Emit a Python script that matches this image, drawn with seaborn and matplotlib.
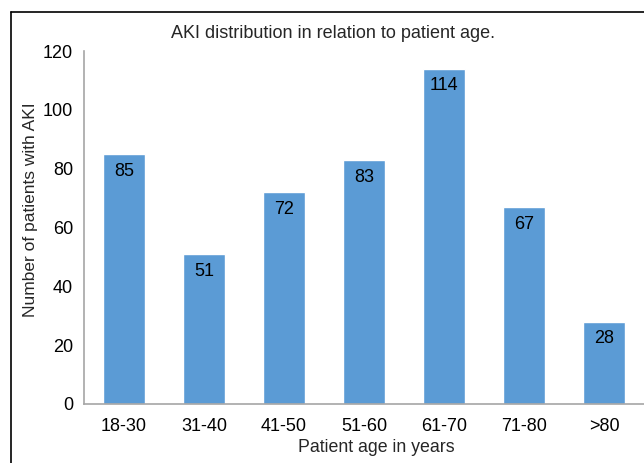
import matplotlib
matplotlib.use("Agg")
import matplotlib.pyplot as plt
import seaborn as sns
import pandas as pd
from matplotlib.lines import Line2D

categories = ["18-30", "31-40", "41-50", "51-60", "61-70", "71-80", ">80"]
values = [85, 51, 72, 83, 114, 67, 28]
yticks = [0, 20, 40, 60, 80, 100, 120]

sns.set_theme(style="white")
plt.rcParams['font.family'] = ['Liberation Sans', 'DejaVu Sans']

df = pd.DataFrame({"age": categories, "n": values})

fig = plt.figure(figsize=(6.44, 4.63), dpi=100)
ax = fig.add_axes([84/644, 1-404/463, 1-84/644, (404-51)/463])
sns.barplot(data=df, x="age", y="n", color="#5B9BD5", saturation=1, width=0.52, ax=ax)

ax.set_ylim(0, 120)
ax.set_yticks(yticks)
ax.set_xlim(-0.5, 6.5)
ax.tick_params(axis='both', length=0, labelsize=13, colors='black')
ax.tick_params(axis='y', pad=8)
ax.tick_params(axis='x', pad=10)
for s in ["top", "right"]:
    ax.spines[s].set_visible(False)
for s in ["left", "bottom"]:
    ax.spines[s].set_color("#A6A6A6")
    ax.spines[s].set_linewidth(1.2)

for i, v in enumerate(values):
    ax.text(i, v - 3, str(v), ha='center', va='top', fontsize=13, color='black')

ax.set_xlabel("")
ax.set_ylabel("")
fig.text(376/644, 1-447/463, "Patient age in years", ha='center', va='center', fontsize=12.8)
fig.text(31/644, 1-210/463, "Number of patients with AKI", ha='center', va='center',
         rotation=90, fontsize=12.5)
fig.text(333/644, 1-33/463, "AKI distribution in relation to patient age.", ha='center', va='center', fontsize=13)

fig.add_artist(Line2D([11/644, 11/644], [0, 1-12/463], transform=fig.transFigure, color='black', lw=1.2))
fig.add_artist(Line2D([11/644, 1], [1-12/463, 1-12/463], transform=fig.transFigure, color='black', lw=1.2))

fig.savefig("out.png", dpi=100)
